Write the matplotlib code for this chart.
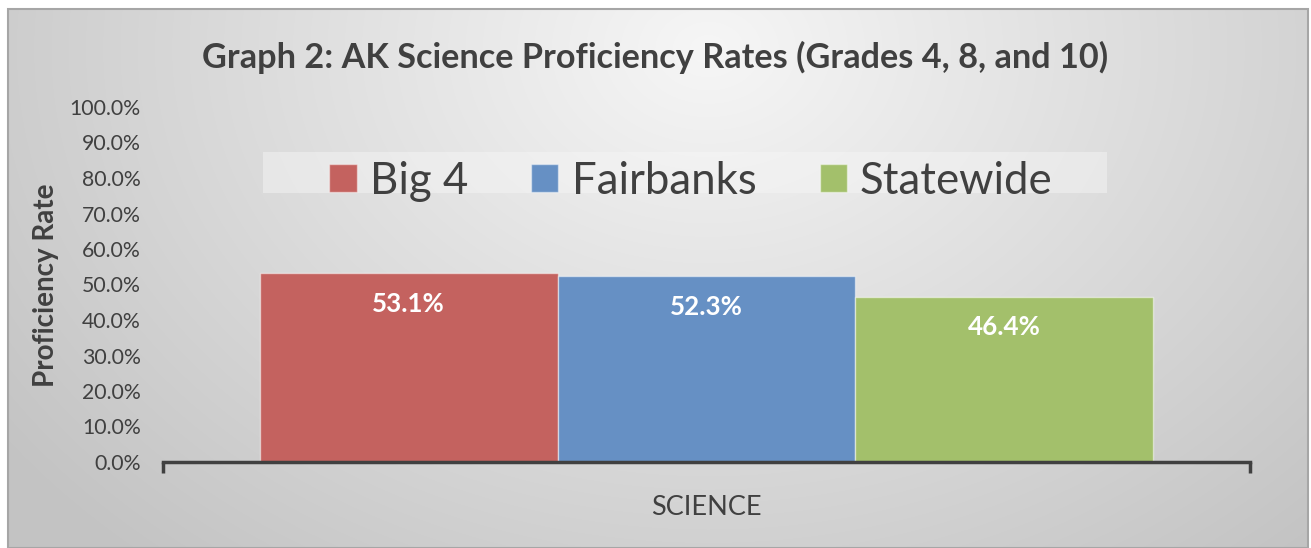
import numpy as np
import matplotlib
matplotlib.use("Agg")
import matplotlib.pyplot as plt
from matplotlib.patches import Rectangle
from matplotlib.ticker import PercentFormatter

# Data
categories = ["SCIENCE"]
series = ["Big 4", "Fairbanks", "Statewide"]
values = [0.531, 0.523, 0.464]
colors = ["#C4625F", "#6690C4", "#A3C06B"]
title = "Graph 2: AK Science Proficiency Rates (Grades 4, 8, and 10)"
ylabel = "Proficiency Rate"

plt.rcParams['font.family'] = ['Lato', 'DejaVu Sans']
W, H = 1311, 548
fig = plt.figure(figsize=(W/100, H/100), dpi=100)
fig.patch.set_facecolor("white")

# Background radial gradient
bg = fig.add_axes([8/W, 0, (1308-8)/W, (548-9)/H], zorder=-10)
yy, xx = np.mgrid[0:540, 0:1300]
cx, cy = 700, 40
d = np.sqrt(((xx-cx)/880.0)**2 + ((yy-cy)/680.0)**2)
d = np.clip(d, 0, 1)
v = 0.965 - d*0.2
img = np.dstack([v, v, v])
bg.imshow(img, aspect='auto', extent=[0, 1, 0, 1], origin='upper')
bg.set_axis_off()
fig.patches.append(Rectangle((8/W, 0), (1308-8)/W, (548-9)/H, transform=fig.transFigure,
                             fill=False, edgecolor="#a6a6a6", linewidth=1.5, zorder=-5))
# legend background panel
fig.patches.append(Rectangle((263/W, (548-193)/H), (1107-263)/W, (193-152)/H, transform=fig.transFigure,
                             facecolor=(0.97, 0.97, 0.97, 0.45), edgecolor='none', zorder=-4))

ax = fig.add_axes([163/W, (548-462)/H, (1250-163)/W, (462-107)/H])
ax.patch.set_alpha(0)
bw = 0.274
offsets = [-bw, 0, bw]
bars = []
for i, (s, val, c) in enumerate(zip(series, values, colors)):
    b = ax.bar(offsets[i], val, width=bw, color=c, edgecolor=(1, 1, 1, 0.5), linewidth=1, label=s, zorder=3)
    bars.append(b)
    ax.text(offsets[i], val - 0.085, f"{val*100:.1f}%", ha='center', va='center',
            color='white', fontsize=18.7, fontweight='bold', zorder=4)

ax.set_xlim(-0.5, 0.5)
ax.set_ylim(0, 1.0)
ax.set_yticks(np.arange(0, 1.01, 0.1))
ax.yaxis.set_major_formatter(PercentFormatter(1.0, decimals=1))
ax.tick_params(axis='y', length=0, labelsize=15.3, labelcolor="#404040", pad=16)
ax.set_xticks([0])
ax.set_xticklabels(categories)
ax.tick_params(axis='x', which='major', length=0, labelsize=19.5, labelcolor="#404040", pad=24)
ax.set_xticks([-0.5, 0.5], minor=True)
ax.tick_params(axis='x', which='minor', length=8, width=2.5, color="#404040", direction='out')
for sp in ['top', 'right', 'left']:
    ax.spines[sp].set_visible(False)
ax.spines['bottom'].set_linewidth(2.5)
ax.spines['bottom'].set_color("#404040")
ax.spines['bottom'].set_zorder(5)

fig.text(0.5, (548-57)/H, title, ha='center', va='center', fontsize=24.7, fontweight='bold', color="#404040")
fig.text(46/W, (548-285)/H, ylabel, ha='center', va='center', rotation=90, fontsize=20,
         fontweight='bold', color="#404040")

leg = fig.legend(handles=[b[0] for b in bars], labels=series, loc='center',
                 bbox_to_anchor=(691/W, (548-181)/H), ncol=3, fontsize=31.5, frameon=False,
                 handlelength=0.62, handleheight=0.62, handletextpad=0.3, columnspacing=1.45,
                 borderpad=0.0, labelcolor="#404040")
for h in leg.legend_handles:
    h.set_edgecolor((1, 1, 1, 0.45))
    h.set_linewidth(1)

fig.savefig("out.png", dpi=100)
